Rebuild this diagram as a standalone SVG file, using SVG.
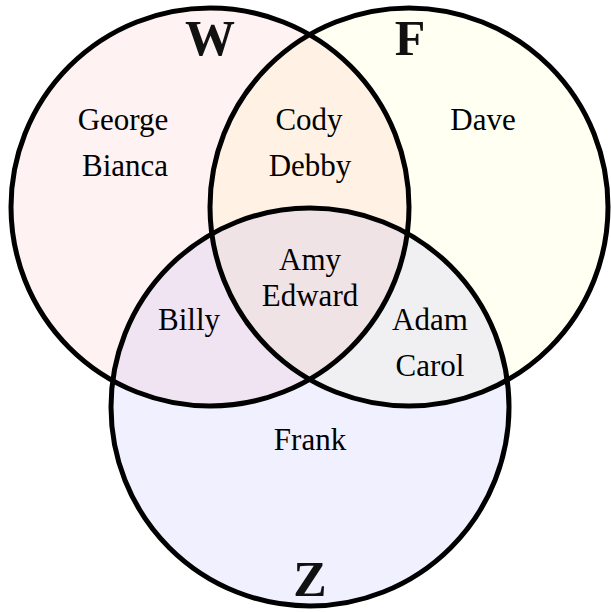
<svg xmlns="http://www.w3.org/2000/svg" width="611" height="613" viewBox="0 0 611 613">
<style>
.ring{fill:none;stroke:#000;stroke-width:5}
</style>
<rect width="611" height="613" fill="#fff"/>
<g id="W"><circle cx="210" cy="207" r="199" fill="#ff0000" fill-opacity="0.05"/></g>
<g id="F"><circle cx="409" cy="207" r="199" fill="#ffff00" fill-opacity="0.05"/></g>
<g id="Z"><circle cx="310" cy="407" r="199" fill="#0000ff" fill-opacity="0.06"/></g>
<g id="outlines">
<circle class="ring" cx="210" cy="207" r="199"/>
<circle class="ring" cx="409" cy="207" r="199"/>
<circle class="ring" cx="310" cy="407" r="199"/>
</g>
<g id="set-labels" font-family="Liberation Serif" font-size="50" font-weight="bold" fill="#111" text-anchor="middle">
<text x="210" y="55">W</text>
<text x="410" y="55">F</text>
<text x="310" y="596">Z</text>
</g>
<g id="labels" font-family="Liberation Serif" font-size="31" fill="#000" text-anchor="middle">
<text x="123" y="130">George</text>
<text x="125" y="176">Bianca</text>
<text x="309" y="130">Cody</text>
<text x="310" y="176">Debby</text>
<text x="483" y="130">Dave</text>
<text x="310" y="270">Amy</text>
<text x="310" y="306">Edward</text>
<text x="189" y="330">Billy</text>
<text x="430" y="330">Adam</text>
<text x="430" y="376">Carol</text>
<text x="310" y="450">Frank</text>
</g>
</svg>
